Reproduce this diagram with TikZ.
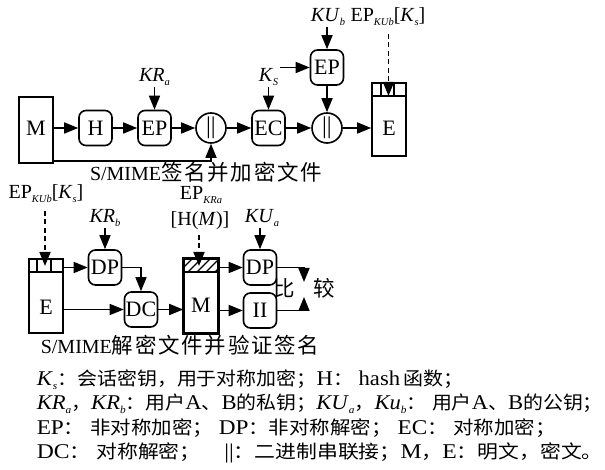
\documentclass[tikz,border=0pt]{standalone}
\usepackage{fontspec}
\usepackage{graphicx}
\setmainfont{Liberation Serif}
\newfontfamily\cjkf{Noto Sans CJK SC}
\newfontfamily\cjkc{Noto Sans CJK SC}[LetterSpace=8]
\usetikzlibrary{arrows.meta}
\newcommand\sbs[1]{\raisebox{-4pt}{\fontsize{10.5}{11}\selectfont #1}}
\newcommand\ksub[2]{\textit{#1}\sbs{\textit{#2}}}
\newcommand\zhL[1]{{\cjkf\fontsize{18.5}{20}\selectfont #1}}
\newcommand\zhC[1]{{\cjkc\fontsize{21.5}{26}\selectfont #1}}
\begin{document}
\begin{tikzpicture}[x=1pt,y=-1pt,line width=1.6pt,
  >={Triangle[length=14pt,width=11pt]},
  rbox/.style={draw,rounded corners=7pt,minimum width=33pt,minimum height=35pt,inner sep=0pt,font=\fontsize{22}{24}\selectfont},
  circ/.style={draw,circle,minimum size=30pt,inner sep=0pt,font=\fontsize{24}{24}\selectfont},
  bx/.style={draw,rectangle,inner sep=0pt,minimum width=34pt},
  txt/.style={inner sep=0pt,font=\fontsize{22}{24}\selectfont},
  lab/.style={inner sep=1pt,font=\fontsize{20}{22}\selectfont},
  captxt/.style={inner sep=0pt,font=\fontsize{20}{24}\selectfont},
  leg/.style={anchor=west,inner sep=0pt,font=\fontsize{21}{22}\selectfont},
  dsh/.style={dashed,dash pattern=on 5pt off 3.5pt}]
\useasboundingbox (0,0) rectangle (605,470);

% ---------- top: sign and encrypt ----------
\node[bx,minimum height=66pt] (M1) at (36,130) {};
\node[txt] (M1t) at (36,128) {M};
\node[rbox] (H) at (95.5,128) {H};
\node[rbox] (EP1) at (154.5,128) {EP};
\node[circ] (or1) at (211,128) {||};
\node[rbox] (EC) at (268.5,128) {EC};
\node[circ] (or2) at (327,128) {||};
\node[rbox] (EP2) at (327,67.5) {EP};
\node[bx,minimum height=73pt] (E1) at (389,119.5) {};
\node[txt] (E1t) at (389,128) {E};
\draw ([yshift=-14pt]E1.north west) -- ([yshift=-14pt]E1.north east);
\draw ([xshift=10pt]E1.north west) -- ++(0,14);
\draw ([xshift=23pt]E1.north west) -- ++(0,14);
\coordinate (h1) at (388.5,96);

\node[lab] (kub) at (328,17) {\ksub{KU}{b}};
\node[lab] (epks1) at (388,17) {EP\sbs{\textit{KUb}}[\ksub{K}{s}]};
\node[lab] (kra) at (154.5,77) {\ksub{KR}{a}};
\node[lab] (ks) at (268.5,77) {\ksub{K}{S}};

\draw[->] (M1.east |- H.west) -- (H.west);
\draw[->] (H) -- (EP1);
\draw[->] (EP1) -- (or1);
\draw[->] (or1) -- (EC);
\draw[->] (EC) -- (or2);
\draw[->] (or2) -- (E1.west |- or2.east);
\draw[->] (EP2) -- (or2);
\draw[->] (kub.south -| EP2.north) -- (EP2.north);
\draw[->] (kra) -- (EP1);
\draw[->] (ks) -- (EC);
\draw[->] (ks.east |- EP2.west) -- (EP2.west);
\draw[->] ([yshift=3pt]M1.south east) -| (or1.south);
\draw[->,dsh,shorten <=6pt] (epks1.south -| h1) -- (h1);

\node[captxt] (cap1) at (206,172.5) {S/MIME\zhC{签名并加密文件}};

% ---------- bottom: decrypt and verify ----------
\node[bx,minimum height=74pt] (E2) at (46,296) {};
\node[txt] (E2t) at (46,307) {E};
\draw ([yshift=-14pt]E2.north west) -- ([yshift=-14pt]E2.north east);
\draw ([xshift=9pt]E2.north west) -- ++(0,14);
\draw ([xshift=23pt]E2.north west) -- ++(0,14);
\coordinate (h2) at (45,266);

\node[rbox] (DP1) at (105,267.5) {DP};
\node[rbox] (DC) at (141,309.5) {DC};

\node[bx,minimum height=74pt] (M2) at (201,296) {};
\node[txt] (M2t) at (201,305) {M};
\begin{scope}[line width=1.4pt]
\clip (184,259) rectangle (218,273);
\foreach \i in {0,...,4} \draw (178+9*\i,273) -- ++(14,-14);
\end{scope}
\draw ([yshift=-14pt]M2.north west) -- ([yshift=-14pt]M2.north east);
\draw (M2.north west) rectangle (M2.south east);
\coordinate (h3) at (199,266);

\node[rbox] (DP2) at (260,267.5) {DP};
\node[rbox] (II) at (260,310.5) {II};
\coordinate (cmp1) at (304,282);
\coordinate (cmp2) at (304,297);

\node[lab] (epks2) at (46,194) {EP\sbs{\textit{KUb}}[\ksub{K}{s}]};
\node[lab] (krb) at (105,218) {\ksub{KR}{b}};
\node[lab,inner sep=0pt] (epkra) at (201,195) {EP\sbs{\textit{KRa}}};
\node[lab] (hm) at (200,221) {[H(\textit{M})]};
\node[lab] (kua) at (262,218) {\ksub{KU}{a}};
\node[inner sep=0pt] (bi) at (284,288) {\zhC{比}};
\node[inner sep=0pt] (jiao) at (324,288) {\zhC{较}};

\draw[->,dsh,shorten <=6pt] (epks2.south -| h2) -- (h2);
\draw[->,dsh,shorten <=3pt] (hm.south -| h3) -- (h3);
\draw[->] (krb.south -| DP1.north) -- (DP1.north);
\draw[->] (E2.north east |- DP1.west) -- (DP1.west);
\draw[->] (DP1.east) -| (DC.north);
\draw[->] (E2.east |- DC.west) -- (DC.west);
\draw[->] (DC.east) -- (M2.west |- DC.east);
\draw[->] (M2.east |- DP2.west) -- (DP2.west);
\draw[->] (M2.east |- II.west) -- (II.west);
\draw[->] (kua.south -| DP2.north) -- (DP2.north);
\draw[->] (DP2.east) -| (cmp1);
\draw[->] (II.east) -| (cmp2);

\node[captxt] (cap2) at (180,345) {S/MIME\zhC{解密文件并验证签名}};

% ---------- legend ----------
\node[leg] (l1) at (36,380) {\resizebox{427pt}{\height}{\ksub{K}{s}\zhL{：会话密钥，用于对称加密；}H\zhL{：} hash\,\zhL{函数；}}};
\node[leg] (l2) at (36,404) {\resizebox{566pt}{\height}{\ksub{KR}{a}\zhL{，}\ksub{KR}{b}\zhL{：用户}A\zhL{、}B\zhL{的私钥；}\ksub{KU}{a}\zhL{，}\ksub{Ku}{b}\zhL{：} \zhL{用户}A\zhL{、}B\zhL{的公钥；}}};
\node[leg] (l3) at (36,428) {\resizebox{519pt}{\height}{EP\zhL{：} \zhL{非对称加密；} DP\zhL{：非对称解密；} EC\zhL{：} \zhL{对称加密；}}};
\node[leg] (l4) at (36,453) {\resizebox{566pt}{\height}{DC\zhL{：} \zhL{对称解密；}\quad ||\zhL{：二进制串联接；}M\zhL{，}E\zhL{：明文，密文。}}};
\end{tikzpicture}
\end{document}
